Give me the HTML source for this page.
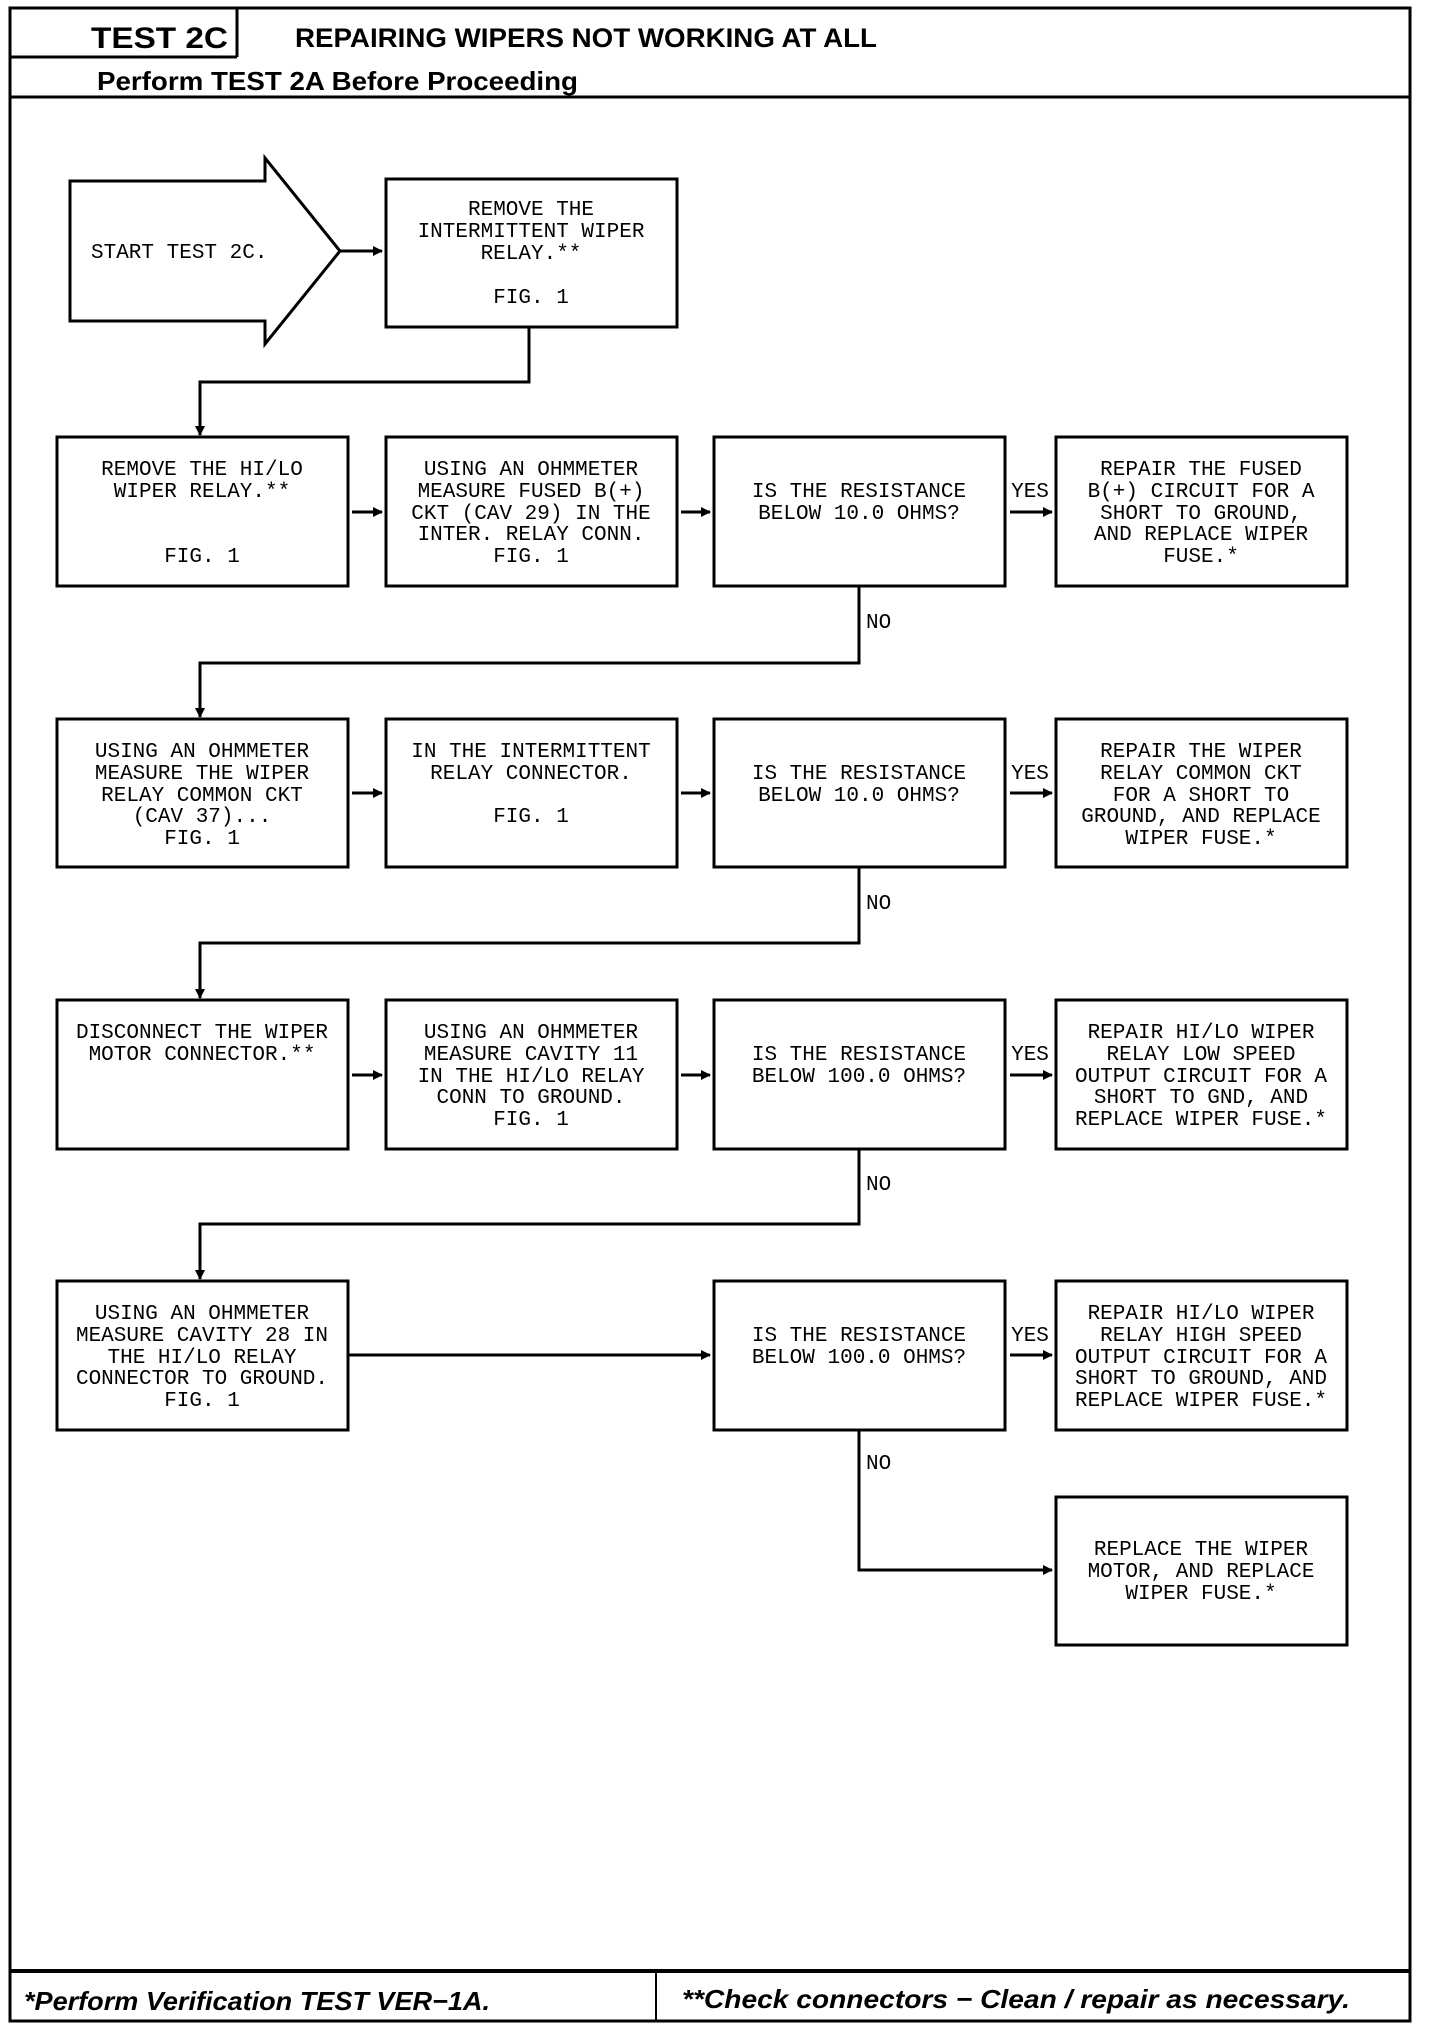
<!DOCTYPE html>
<html><head><meta charset="utf-8"><style>
html,body{margin:0;padding:0;background:#fff;}
svg{display:block;}
.t{font-family:"Liberation Mono",monospace;font-size:21px;fill:#000;text-anchor:middle;}
.h{font-family:"Liberation Sans",sans-serif;font-weight:bold;fill:#000;}
</style></head><body>
<svg width="1440" height="2030" viewBox="0 0 1440 2030" xmlns="http://www.w3.org/2000/svg">
<defs><marker id="a" markerWidth="10" markerHeight="10" refX="9" refY="5" orient="auto" markerUnits="userSpaceOnUse"><path d="M0,0 L10,5 L0,10 z" fill="#000"/></marker></defs>
<g fill="none" stroke="#000" stroke-width="3">
<rect x="10" y="8" width="1400" height="2013"/>
<line x1="10" y1="57" x2="237" y2="57"/>
<line x1="237" y1="8" x2="237" y2="57"/>
<line x1="10" y1="97" x2="1410" y2="97"/>
<line x1="10" y1="1971" x2="1410" y2="1971" stroke-width="4"/>
<line x1="656" y1="1971" x2="656" y2="2021" stroke-width="2"/>
<path d="M70,181 L265,181 L265,158 L340,251 L265,344 L265,321 L70,321 Z"/>
<rect x="386" y="179" width="291" height="148"/>
<rect x="57" y="437" width="291" height="149"/><rect x="386" y="437" width="291" height="149"/><rect x="714" y="437" width="291" height="149"/><rect x="1056" y="437" width="291" height="149"/>
<rect x="57" y="719" width="291" height="148"/><rect x="386" y="719" width="291" height="148"/><rect x="714" y="719" width="291" height="148"/><rect x="1056" y="719" width="291" height="148"/>
<rect x="57" y="1000" width="291" height="149"/><rect x="386" y="1000" width="291" height="149"/><rect x="714" y="1000" width="291" height="149"/><rect x="1056" y="1000" width="291" height="149"/>
<rect x="57" y="1281" width="291" height="149"/><rect x="714" y="1281" width="291" height="149"/><rect x="1056" y="1281" width="291" height="149"/>
<rect x="1056" y="1497" width="291" height="148"/>
</g>
<g fill="none" stroke="#000" stroke-width="3" marker-end="url(#a)">
<line x1="340" y1="251" x2="382" y2="251"/>
<polyline points="529,327 529,382 200,382 200,435"/>
<line x1="352" y1="512" x2="382" y2="512"/><line x1="681" y1="512" x2="710" y2="512"/><line x1="1010" y1="512" x2="1052" y2="512"/>
<polyline points="859,586 859,663 200,663 200,717"/>
<line x1="352" y1="793" x2="382" y2="793"/><line x1="681" y1="793" x2="710" y2="793"/><line x1="1010" y1="793" x2="1052" y2="793"/>
<polyline points="859,867 859,943 200,943 200,998"/>
<line x1="352" y1="1075" x2="382" y2="1075"/><line x1="681" y1="1075" x2="710" y2="1075"/><line x1="1010" y1="1075" x2="1052" y2="1075"/>
<polyline points="859,1149 859,1224 200,1224 200,1279"/>
<line x1="348" y1="1355" x2="710" y2="1355"/><line x1="1010" y1="1355" x2="1052" y2="1355"/>
<polyline points="859,1430 859,1570 1052,1570"/>
</g>
<text class="h" x="91" y="48" font-size="30" textLength="137" lengthAdjust="spacingAndGlyphs">TEST 2C</text>
<text class="h" x="295" y="47" font-size="27" textLength="582" lengthAdjust="spacingAndGlyphs">REPAIRING WIPERS NOT WORKING AT ALL</text>
<text class="h" x="97" y="90" font-size="26" textLength="481" lengthAdjust="spacingAndGlyphs">Perform TEST 2A Before Proceeding</text>
<text class="h" x="24" y="2010" font-size="26" font-style="italic" textLength="466" lengthAdjust="spacingAndGlyphs">*Perform Verification TEST VER−1A.</text>
<text class="h" x="682" y="2008" font-size="26" font-style="italic" textLength="668" lengthAdjust="spacingAndGlyphs">**Check connectors − Clean / repair as necessary.</text>
<g class="t">
<text x="91" y="258" style="text-anchor:start">START TEST 2C.</text>
<text x="531" y="215">REMOVE THE</text><text x="531" y="237">INTERMITTENT WIPER</text><text x="531" y="259">RELAY.**</text><text x="531" y="303">FIG. 1</text>
<text x="202" y="475">REMOVE THE HI/LO</text><text x="202" y="497">WIPER RELAY.**</text><text x="202" y="562">FIG. 1</text>
<text x="531" y="475">USING AN OHMMETER</text><text x="531" y="497">MEASURE FUSED B(+)</text><text x="531" y="519">CKT (CAV 29) IN THE</text><text x="531" y="540">INTER. RELAY CONN.</text><text x="531" y="562">FIG. 1</text>
<text x="859" y="497">IS THE RESISTANCE</text><text x="859" y="519">BELOW 10.0 OHMS?</text>
<text x="1201" y="475">REPAIR THE FUSED</text><text x="1201" y="497">B(+) CIRCUIT FOR A</text><text x="1201" y="519">SHORT TO GROUND,</text><text x="1201" y="540">AND REPLACE WIPER</text><text x="1201" y="562">FUSE.*</text>
<text x="202" y="757">USING AN OHMMETER</text><text x="202" y="779">MEASURE THE WIPER</text><text x="202" y="801">RELAY COMMON CKT</text><text x="202" y="822">(CAV 37)...</text><text x="202" y="844">FIG. 1</text>
<text x="531" y="757">IN THE INTERMITTENT</text><text x="531" y="779">RELAY CONNECTOR.</text><text x="531" y="822">FIG. 1</text>
<text x="859" y="779">IS THE RESISTANCE</text><text x="859" y="801">BELOW 10.0 OHMS?</text>
<text x="1201" y="757">REPAIR THE WIPER</text><text x="1201" y="779">RELAY COMMON CKT</text><text x="1201" y="801">FOR A SHORT TO</text><text x="1201" y="822">GROUND, AND REPLACE</text><text x="1201" y="844">WIPER FUSE.*</text>
<text x="202" y="1038">DISCONNECT THE WIPER</text><text x="202" y="1060">MOTOR CONNECTOR.**</text>
<text x="531" y="1038">USING AN OHMMETER</text><text x="531" y="1060">MEASURE CAVITY 11</text><text x="531" y="1082">IN THE HI/LO RELAY</text><text x="531" y="1103">CONN TO GROUND.</text><text x="531" y="1125">FIG. 1</text>
<text x="859" y="1060">IS THE RESISTANCE</text><text x="859" y="1082">BELOW 100.0 OHMS?</text>
<text x="1201" y="1038">REPAIR HI/LO WIPER</text><text x="1201" y="1060">RELAY LOW SPEED</text><text x="1201" y="1082">OUTPUT CIRCUIT FOR A</text><text x="1201" y="1103">SHORT TO GND, AND</text><text x="1201" y="1125">REPLACE WIPER FUSE.*</text>
<text x="202" y="1319">USING AN OHMMETER</text><text x="202" y="1341">MEASURE CAVITY 28 IN</text><text x="202" y="1363">THE HI/LO RELAY</text><text x="202" y="1384">CONNECTOR TO GROUND.</text><text x="202" y="1406">FIG. 1</text>
<text x="859" y="1341">IS THE RESISTANCE</text><text x="859" y="1363">BELOW 100.0 OHMS?</text>
<text x="1201" y="1319">REPAIR HI/LO WIPER</text><text x="1201" y="1341">RELAY HIGH SPEED</text><text x="1201" y="1363">OUTPUT CIRCUIT FOR A</text><text x="1201" y="1384">SHORT TO GROUND, AND</text><text x="1201" y="1406">REPLACE WIPER FUSE.*</text>
<text x="1201" y="1555">REPLACE THE WIPER</text><text x="1201" y="1577">MOTOR, AND REPLACE</text><text x="1201" y="1599">WIPER FUSE.*</text>
<text x="1030" y="497">YES</text><text x="1030" y="779">YES</text><text x="1030" y="1060">YES</text><text x="1030" y="1341">YES</text>
<text x="866" y="628" style="text-anchor:start">NO</text><text x="866" y="909" style="text-anchor:start">NO</text><text x="866" y="1190" style="text-anchor:start">NO</text><text x="866" y="1469" style="text-anchor:start">NO</text>
</g>
</svg>
</body></html>
